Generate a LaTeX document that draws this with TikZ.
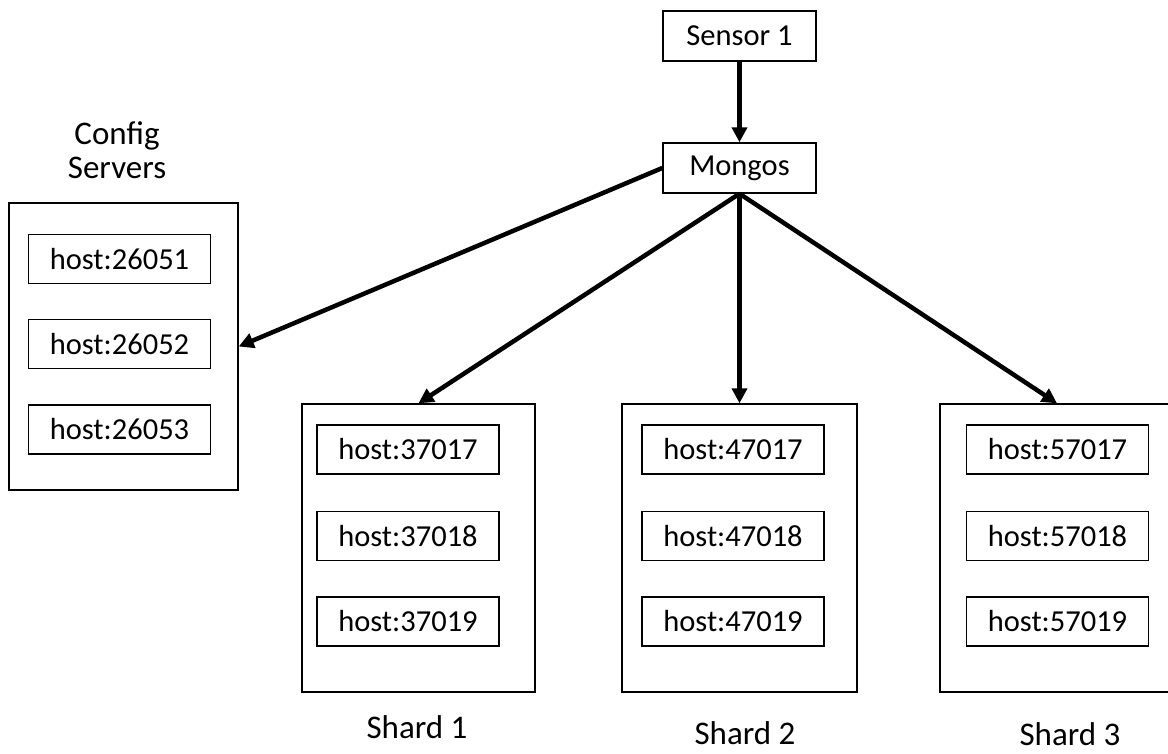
\documentclass[tikz,border=0pt]{standalone}
\usepackage{fontspec}
\setmainfont{Carlito}
\usetikzlibrary{arrows.meta}
\begin{document}
\begin{tikzpicture}[x=1pt,y=-1pt,
  hostbox/.style={draw, line width=1.4pt, minimum width=182pt, minimum height=49pt,
    inner sep=0pt, font=\fontsize{30.5}{36}\selectfont},
  topbox/.style={draw, line width=1.4pt, minimum width=153pt, minimum height=50pt,
    inner sep=0pt, font=\fontsize{30.5}{36}\selectfont},
  group/.style={draw, line width=1.4pt, minimum width=233pt, minimum height=288pt, inner sep=0pt},
  caption/.style={font=\fontsize{33}{34}\selectfont, align=center, inner sep=0pt},
  link/.style={line width=4.5pt, -{Triangle[length=15pt,width=15pt]}}
]
\useasboundingbox (0,0) rectangle (1168,753);

% entry point and router
\node[topbox] (sensor) at (739.5,36) {Sensor 1};
\node[topbox] (mongos) at (739.5,168) {Mongos};

% config server replica set
\node[caption] (cfglabel) at (117,150) {Config\\Servers};
\node[group, minimum width=229pt, minimum height=287pt] (config) at (123.5,346.5) {};
\node[hostbox] (c1) at (119.5,259) {host:26051};
\node[hostbox] (c2) at (119.5,344) {host:26052};
\node[hostbox] (c3) at (119.5,429.5) {host:26053};

% shard 1
\node[group] (s1) at (418.5,548) {};
\node[hostbox] (h37017) at (408,449.5) {host:37017};
\node[hostbox] (h37018) at (408,536) {host:37018};
\node[hostbox] (h37019) at (408,621.5) {host:37019};
\node[caption] (s1label) at (417,727) {Shard 1};

% shard 2
\node[group, minimum width=235pt] (s2) at (739.5,548) {};
\node[hostbox] (h47017) at (733,449.5) {host:47017};
\node[hostbox] (h47018) at (733,536) {host:47018};
\node[hostbox] (h47019) at (733,621.5) {host:47019};
\node[caption] (s2label) at (745,733) {Shard 2};

% shard 3
\node[group, minimum width=234pt] (s3) at (1057,548) {};
\node[hostbox] (h57017) at (1057.5,449.5) {host:57017};
\node[hostbox] (h57018) at (1057.5,536) {host:57018};
\node[hostbox] (h57019) at (1057.5,621.5) {host:57019};
\node[caption] (s3label) at (1070,734) {Shard 3};

% connections
\draw[link] (sensor.south) -- (mongos.north);
\draw[link] (mongos.west) -- (config.east);
\draw[link] (mongos.south) -- (s1.north);
\draw[link] (mongos.south) -- (s2.north);
\draw[link] (mongos.south) -- (s3.north);
\end{tikzpicture}
\end{document}
